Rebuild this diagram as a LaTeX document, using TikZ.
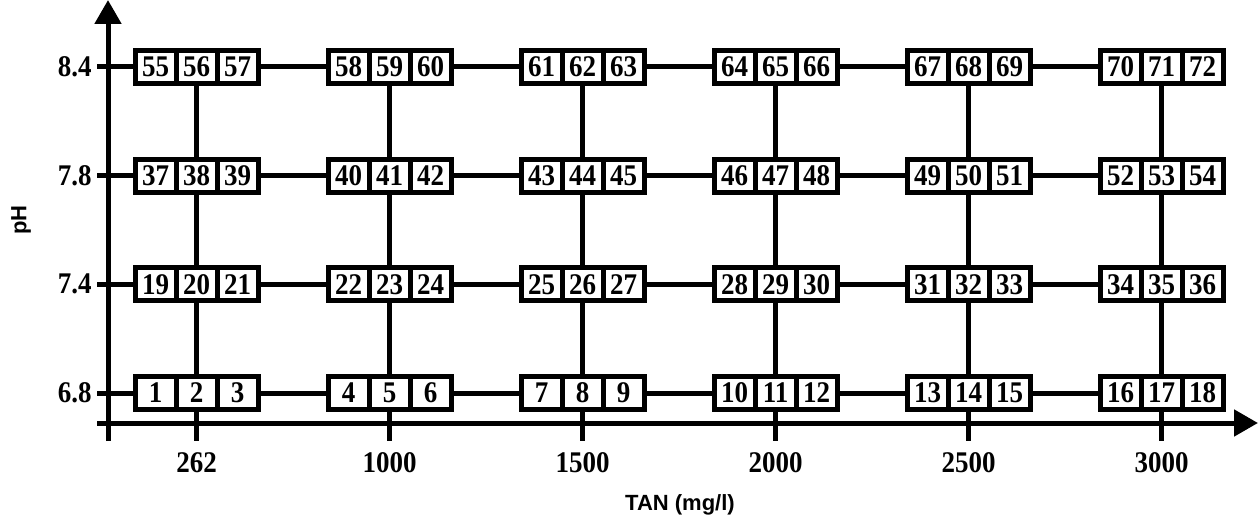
\documentclass[tikz,border=0pt]{standalone}
\usepackage{fontspec}
\setmainfont[FakeStretch=0.9]{Liberation Serif}
\newfontfamily\titlesans{Liberation Sans}
\usetikzlibrary{arrows.meta,backgrounds}
\tikzset{
  cellbox/.style   = {draw, fill=white, line width=2.5pt, inner sep=0pt,
                      minimum width=20.5pt, minimum height=16.5pt,
                      font=\fontsize{15}{15}\selectfont\bfseries},
  gridline/.style  = {line width=2.5pt},
  axisarrow/.style = {-{Triangle[length=12pt,width=13pt]}, line width=2.5pt},
  ticklabel/.style = {inner sep=2.5pt, font=\fontsize{15}{15}\selectfont\bfseries},
  axistitle/.style = {inner sep=0pt, font=\titlesans\fontsize{11}{12}\selectfont\bfseries}
}

\begin{document}
\begin{tikzpicture}[x=0.5pt, y=-0.5pt]
  \useasboundingbox (0,0) rectangle (1260,524);
  % cells, numbered row by row from the bottom
  \foreach \r/\y in {0/393,1/284.3,2/175.7,3/67}{
    \foreach \c/\x in {0/196.5,1/389.5,2/582.5,3/775.5,4/968.5,5/1161.5}{
      \foreach \k in {1,2,3}{
        \pgfmathtruncatemacro{\n}{18*\r+3*\c+\k}
        \node[cellbox] (c\n) at ({\x+(\k-2)*41},\y) {\n};
      }
    }
  }
  % axis labels
  \foreach \r/\ph/\y in {0/6.8/393,1/7.4/284.3,2/7.8/175.7,3/8.4/67}
    \node[ticklabel, anchor=east] (ph\r) at (97,\y) {\ph};
  \foreach \c/\tan/\x in {0/262/196.5,1/1000/389.5,2/1500/582.5,3/2000/775.5,4/2500/968.5,5/3000/1161.5}{
    \node[ticklabel] (tan\c) at (\x,463) {\tan};
    \coordinate (tk\c) at (\x,441);
  }
  \node[axistitle] (xtitle) at (680,505) {TAN (mg/l)};
  \node[axistitle, rotate=90] (ytitle) at (21,220) {pH};
  % axes
  \coordinate (xfrom) at (97,423);
  \coordinate (xto) at (1258,423);
  \coordinate (yfrom) at (108,441);
  \coordinate (yto) at (108,0);
  \draw[axisarrow] (xfrom) -- (xto);
  \draw[axisarrow] (yfrom) -- (yto);
  % lines behind the cells
  \begin{scope}[on background layer]
    \foreach \r in {0,...,3}{
      \pgfmathtruncatemacro{\m}{18*\r+17}
      \draw[gridline] (ph\r.east) -- (c\m);
    }
    \foreach \c in {0,...,5}{
      \pgfmathtruncatemacro{\m}{56+3*\c}
      \draw[gridline] (c\m) -- (tk\c);
    }
  \end{scope}
\end{tikzpicture}
\end{document}
